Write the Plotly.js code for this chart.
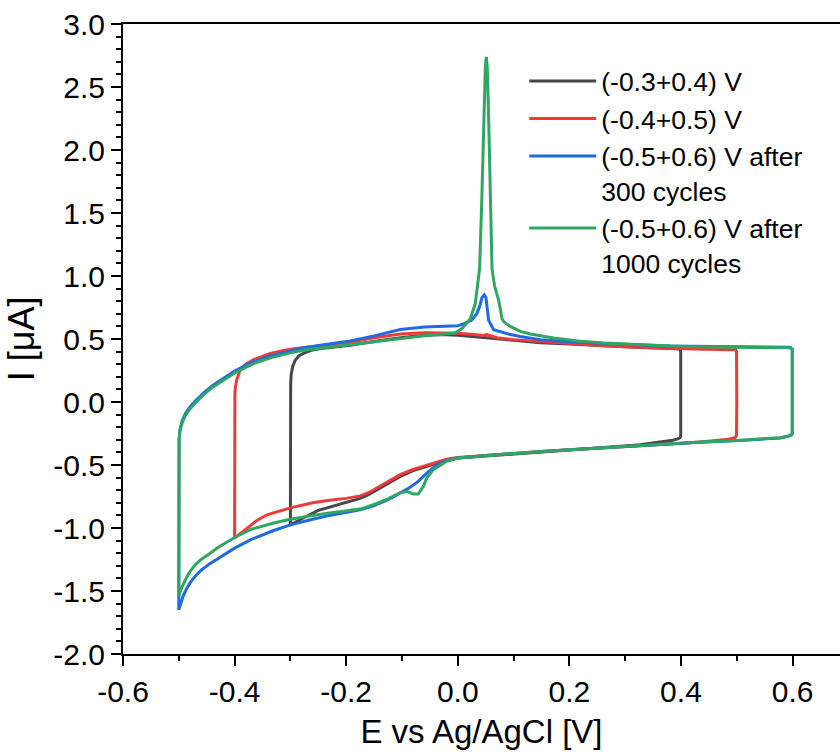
<!DOCTYPE html>
<html>
<head>
<meta charset="utf-8">
<script src="https://cdn.plot.ly/plotly-3.0.1.min.js"></script>
<style>
html,body{margin:0;padding:0;background:#fff;overflow:hidden;}
#chart{width:840px;height:756px;}
</style>
</head>
<body>
<div id="chart"></div>
<script>
// ---- data: E vs Ag/AgCl [V] and I [µA], each loop ----
const blackE = [-0.3,-0.3,-0.3,-0.2995,-0.2985,-0.296,-0.2915,-0.285,-0.275,-0.2627,-0.245,-0.22,-0.193,-0.15,-0.103,-0.06,-0.031,0.0,0.03,0.051,0.1,0.148,0.2,0.26,0.32,0.381,0.398,0.3995,
  0.4,0.4,0.3995,0.398,0.393,0.385,0.37,0.35,0.327,0.28,0.2,0.15,0.1,0.05,0.0,-0.02,-0.036,-0.055,-0.08,-0.103,-0.12,-0.139,-0.16,-0.175,-0.2,-0.23,-0.25,-0.27,-0.285,-0.295,-0.3];
const blackI = [-0.974,-0.5,0.0,0.15,0.22,0.28,0.33,0.365,0.39,0.41,0.425,0.435,0.45,0.48,0.51,0.53,0.535,0.53,0.52,0.51,0.49,0.47,0.46,0.445,0.435,0.425,0.42,0.40,
  0.0,-0.25,-0.275,-0.285,-0.295,-0.303,-0.312,-0.322,-0.34,-0.355,-0.38,-0.395,-0.41,-0.425,-0.445,-0.46,-0.48,-0.51,-0.545,-0.59,-0.635,-0.685,-0.735,-0.765,-0.795,-0.83,-0.86,-0.905,-0.94,-0.965,-0.974];

const redE = [-0.4,-0.4,-0.4,-0.3995,-0.3985,-0.396,-0.3897,-0.38,-0.366,-0.35,-0.336,-0.31,-0.29,-0.25,-0.193,-0.15,-0.103,-0.06,-0.031,0.0,0.03,0.045,0.052,0.058,0.07,0.1,0.148,0.2,0.261,0.32,0.381,0.44,0.498,0.4995,
  0.5,0.5,0.4995,0.498,0.493,0.485,0.47,0.435,0.38,0.327,0.26,0.2,0.15,0.1,0.05,0.0,-0.02,-0.036,-0.055,-0.08,-0.103,-0.12,-0.139,-0.16,-0.175,-0.2,-0.23,-0.26,-0.3,-0.32,-0.342,-0.36,-0.378,-0.39,-0.397,-0.4];
const redI = [-1.08,-0.5,0.0,0.06,0.12,0.18,0.256,0.30,0.336,0.36,0.385,0.41,0.425,0.445,0.475,0.51,0.54,0.55,0.55,0.545,0.535,0.528,0.535,0.525,0.51,0.495,0.48,0.465,0.447,0.435,0.425,0.418,0.415,0.40,
  0.0,-0.24,-0.265,-0.278,-0.288,-0.295,-0.303,-0.318,-0.333,-0.345,-0.36,-0.378,-0.393,-0.408,-0.422,-0.44,-0.455,-0.475,-0.50,-0.535,-0.577,-0.62,-0.67,-0.72,-0.745,-0.765,-0.78,-0.80,-0.84,-0.865,-0.895,-0.94,-1.0,-1.04,-1.07,-1.08];

const blueE = [-0.5,-0.5,-0.5,-0.4995,-0.498,-0.494,-0.488,-0.48,-0.47,-0.455,-0.44,-0.42,-0.40,-0.38,-0.366,-0.336,-0.30,-0.276,-0.24,-0.193,-0.15,-0.103,-0.06,-0.031,0.0,0.0104,0.025,0.034,0.04,0.0434,0.0475,0.0505,0.0523,0.0552,0.0642,0.08,0.094,0.112,0.148,0.2,0.26,0.32,0.381,0.45,0.52,0.596,0.5995,
  0.6,0.6,0.5995,0.598,0.592,0.578,0.54,0.506,0.435,0.38,0.327,0.26,0.2,0.15,0.1,0.05,0.0,-0.02,-0.0364,-0.0545,-0.0708,-0.09,-0.103,-0.116,-0.13,-0.151,-0.175,-0.2,-0.23,-0.26,-0.3,-0.33,-0.37,-0.4,-0.43,-0.445,-0.46,-0.47,-0.479,-0.487,-0.493,-0.497,-0.5];
const blueI = [-1.65,-1.0,-0.4,-0.30,-0.22,-0.15,-0.09,-0.04,0.01,0.075,0.13,0.19,0.245,0.29,0.32,0.365,0.405,0.43,0.455,0.485,0.525,0.575,0.595,0.60,0.605,0.62,0.65,0.70,0.77,0.83,0.85,0.83,0.76,0.65,0.574,0.55,0.535,0.52,0.495,0.478,0.465,0.455,0.445,0.44,0.435,0.435,0.42,
  0.0,-0.22,-0.25,-0.262,-0.272,-0.285,-0.297,-0.305,-0.32,-0.333,-0.345,-0.36,-0.378,-0.393,-0.408,-0.425,-0.445,-0.465,-0.495,-0.56,-0.63,-0.69,-0.72,-0.755,-0.785,-0.825,-0.855,-0.875,-0.90,-0.93,-0.975,-1.02,-1.09,-1.16,-1.24,-1.285,-1.335,-1.38,-1.43,-1.49,-1.55,-1.60,-1.65];

const greenE = [-0.5,-0.5,-0.5,-0.4995,-0.498,-0.494,-0.488,-0.48,-0.47,-0.455,-0.44,-0.42,-0.40,-0.38,-0.366,-0.336,-0.30,-0.276,-0.24,-0.193,-0.15,-0.103,-0.06,-0.031,-0.004,0.008,0.0224,0.0314,0.0373,0.0391,0.043,0.0466,0.0493,0.0511,0.0529,0.0556,0.0583,0.0613,0.066,0.073,0.077,0.0792,0.083,0.094,0.112,0.13,0.172,0.215,0.261,0.32,0.381,0.45,0.52,0.596,0.5995,
  0.6,0.6,0.5995,0.598,0.592,0.578,0.54,0.506,0.435,0.38,0.327,0.26,0.2,0.15,0.1,0.05,0.0,-0.02,-0.0314,-0.0439,-0.0552,-0.0618,-0.0708,-0.0797,-0.091,-0.103,-0.1263,-0.151,-0.175,-0.2,-0.23,-0.26,-0.3,-0.33,-0.37,-0.4,-0.43,-0.445,-0.46,-0.47,-0.48,-0.487,-0.493,-0.497,-0.5];
const greenI = [-1.54,-1.0,-0.4,-0.30,-0.23,-0.165,-0.105,-0.055,-0.005,0.06,0.115,0.175,0.23,0.275,0.305,0.35,0.39,0.41,0.43,0.455,0.48,0.505,0.525,0.535,0.55,0.585,0.66,0.78,0.98,1.06,1.6,2.3,2.65,2.74,2.65,2.2,1.6,1.06,0.92,0.81,0.72,0.66,0.635,0.60,0.56,0.54,0.508,0.485,0.468,0.455,0.445,0.437,0.432,0.43,0.415,
  0.0,-0.22,-0.25,-0.26,-0.27,-0.283,-0.295,-0.303,-0.318,-0.332,-0.345,-0.36,-0.378,-0.393,-0.408,-0.425,-0.445,-0.47,-0.50,-0.537,-0.60,-0.67,-0.73,-0.73,-0.71,-0.72,-0.77,-0.815,-0.85,-0.862,-0.88,-0.90,-0.93,-0.96,-1.01,-1.075,-1.155,-1.205,-1.25,-1.29,-1.345,-1.40,-1.45,-1.495,-1.54];

const seriesNames = ['(-0.3+0.4) V', '(-0.4+0.5) V', '(-0.5+0.6) V after<br>300 cycles', '(-0.5+0.6) V after<br>1000 cycles'];
const seriesColors = ['#474747', '#ee3a3a', '#1f6be0', '#2fa763'];

const xTickVals = [-0.6, -0.4, -0.2, 0.0, 0.2, 0.4, 0.6];
const xTickText = ['-0.6', '-0.4', '-0.2', '0.0', '0.2', '0.4', '0.6'];
const yTickVals = [-2.0, -1.5, -1.0, -0.5, 0.0, 0.5, 1.0, 1.5, 2.0, 2.5, 3.0];
const yTickText = ['-2.0', '-1.5', '-1.0', '-0.5', '0.0', '0.5', '1.0', '1.5', '2.0', '2.5', '3.0'];

const xs = [blackE, redE, blueE, greenE];
const ys = [blackI, redI, blueI, greenI];

const FONT = 'Liberation Sans, Arial, Helvetica, sans-serif';

const traces = xs.map((x, i) => ({
  x: x, y: ys[i], type: 'scatter', mode: 'lines', name: seriesNames[i],
  line: {color: seriesColors[i], width: 3}
}));

const layout = {
  width: 840, height: 756,
  margin: {l: 123, r: 0, t: 24, b: 102, pad: 0},
  paper_bgcolor: '#ffffff', plot_bgcolor: '#ffffff',
  font: {family: FONT, color: '#000000'},
  showlegend: true,
  legend: {
    x: 0.5596, xanchor: 'left', y: 0.947, yanchor: 'top',
    font: {family: FONT, size: 26.5, color: '#000000'},
    bgcolor: 'rgba(0,0,0,0)', borderwidth: 0,
    itemwidth: 67, valign: 'top', tracegroupgap: 0
  },
  xaxis: {
    range: [-0.6, 0.685], showgrid: false, zeroline: false,
    showline: true, linecolor: '#000', linewidth: 2, mirror: true,
    ticks: 'outside', ticklen: 10, tickwidth: 2, tickcolor: '#000',
    tickmode: 'array', tickvals: xTickVals, ticktext: xTickText,
    tickfont: {family: FONT, size: 30, color: '#000'},
    minor: {tickmode: 'linear', tick0: 0, dtick: 0.1, ticks: 'outside', ticklen: 5, tickwidth: 2, tickcolor: '#000', showgrid: false},
    title: {text: 'E vs Ag/AgCl [V]', font: {family: FONT, size: 33, color: '#000'}, standoff: 13}
  },
  yaxis: {
    range: [-2.0, 3.0], showgrid: false, zeroline: false,
    showline: true, linecolor: '#000', linewidth: 2, mirror: false,
    ticks: 'outside', ticklen: 10, tickwidth: 2, tickcolor: '#000',
    tickmode: 'array', tickvals: yTickVals, ticktext: yTickText,
    tickfont: {family: FONT, size: 30, color: '#000'},
    minor: {tickmode: 'linear', tick0: 0, dtick: 0.1, ticks: 'outside', ticklen: 5, tickwidth: 2, tickcolor: '#000', showgrid: false},
    title: {text: 'I [μA]', font: {family: FONT, size: 36, color: '#000'}, standoff: 8}
  }
};

Plotly.newPlot('chart', traces, layout, {displayModeBar: false, staticPlot: true});
</script>
</body>
</html>
